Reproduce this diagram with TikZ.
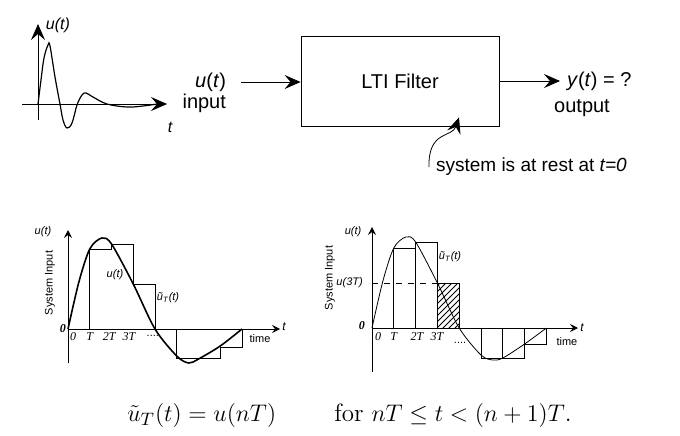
\documentclass[tikz,border=0pt]{standalone}
\usepackage{fontspec}
\setsansfont{Liberation Sans}
\newfontfamily\timesfont{Liberation Serif}
\usetikzlibrary{arrows.meta,patterns}

\tikzset{
  bigtip/.style={-{Stealth[length=8pt,width=7pt,inset=3pt]}},
  smalltip/.style={-{Stealth[length=4pt,width=4pt,inset=1.5pt]}},
  lbl/.style={font=\sffamily\fontsize{10}{12}\selectfont},
  small/.style={font=\sffamily\fontsize{5.5}{6.5}\selectfont},
  tick/.style={font=\timesfont\itshape\fontsize{6}{7}\selectfont},
}

\begin{document}
\begin{tikzpicture}[x=0.5pt,y=-0.5pt]
\useasboundingbox (0,0) rectangle (680,435);

% Input signal
\draw[bigtip] (22,104) -- (167,104);
\draw[bigtip] (38,120) -- (38,24);
\draw[semithick] plot[smooth,tension=0.6] coordinates {
(38,104) (41,80) (44,58) (48,45) (50,46) (55,77) (60,104) (63,120)
(67,128) (72,123) (77,105) (82,95) (86,93) (93,97) (107,104)
(127,107) (143,106) (157,104)};

\node[font=\sffamily\itshape\fontsize{8}{9}\selectfont] (ulabel) at (58,25) {u(t)};
\node[font=\sffamily\itshape\fontsize{8}{9}\selectfont] (tlabel) at (170,127) {t};

% Filter
\node[lbl,draw,minimum width=99pt,minimum height=45pt] (filter) at (400,81) {LTI Filter};

\node[lbl,anchor=east] (uin) at (233,82) {\textit{u}(\textit{t})};
\node[lbl,anchor=east] (inlbl) at (233,103) {input};
\draw[bigtip] ([xshift=4pt]uin.east) -- (uin.east -| filter.west);

\node[lbl,anchor=west] (yout) at (560,81) {\textit{y}(\textit{t}) = ?};
\node[lbl] (outlbl) at (582,108) {output};
\draw[bigtip] (filter.east) -- (yout.west);

\node[lbl,anchor=west,font=\sffamily\fontsize{9.5}{11}\selectfont] (rest) at (429,167)
{system is at rest at \textit{t=0}};
\draw[bigtip] (rest.west) .. controls (428,130) and (452,138) .. ([xshift=29.5pt,yshift=4.5pt]filter.south);

% Staircase
\begin{scope}[shift={(68,329)},x=10.875pt,y=0.5pt]

\draw[smalltip] (0,-34) -- (0,99);
\draw[smalltip] (0,0) -- (9.75,0);

\draw (0,0) -- (1,0) -- (1,80) -- (2,80) -- (2,85) -- (3,85) -- (3,45)
-- (4,45) -- (4,0) -- (5,0) -- (5,-29) -- (7,-29) -- (7,-18) -- (8,-18) -- (8,0);

\draw[thick] plot[smooth] coordinates {
(0,0) (0.5,47) (1,80) (1.55,91) (2,85) (3,45) (4,0)
(5,-27) (5.55,-34) (6,-30) (7,-17) (8,0)};

\node[small,font=\sffamily\itshape\fontsize{5.5}{6.5}\selectfont] (uaxis) at (-1.15,97) {u(t)};
\node[small,rotate=90] (sysin) at (-0.83,46) {System Input};
\node[tick,font=\timesfont\bfseries\itshape\fontsize{6}{7}\selectfont] (zero) at (-0.23,0) {0};
\foreach \t/\name in {0.23/0,1/T,1.89/2T,2.8/3T}
{
    \node[tick] at (\t,-8) {\name};
}
\node[small] (dots) at (3.9,-7) {....};
\node[small] (time) at (8.83,-10) {time};
\node[small,font=\sffamily\itshape\fontsize{6}{7}\selectfont] (taxis) at (9.93,2) {t};
\node[small,font=\sffamily\itshape\fontsize{5.5}{6.5}\selectfont] (ucurve) at (2.16,54) {u(t)};
\node[small,font=\sffamily\itshape\fontsize{5.5}{6.5}\selectfont] (ustep) at (4.6,31) {ũ\textsubscript{T}(t)};

\end{scope}

% Bars
\begin{scope}[shift={(372,328)},x=10.9pt,y=0.5pt]

\draw[smalltip] (0,-44) -- (0,101);
\draw[smalltip] (0,0) -- (9.45,0);

\draw (1,0) rectangle (2,80);
\draw (2,0) rectangle (3,86);
\draw[pattern=north east lines] (3,0) rectangle (4,45);
\draw (5,0) rectangle (6,-30);
\draw (6,0) rectangle (7,-30);
\draw (7,0) rectangle (8,-16);
\draw[dashed] (0,45) -- (3,45);

\draw plot[smooth] coordinates {
(0,0) (0.5,47) (1,80) (1.55,91) (2,86) (3,45) (4,0)
(5,-27) (5.55,-32) (6,-30) (7,-16) (8,0)};

\node[small,font=\sffamily\itshape\fontsize{5.5}{6.5}\selectfont] (uaxis2) at (-0.87,96) {u(t)};
\node[small,rotate=90] (sysin2) at (-1.93,50) {System Input};
\node[small,anchor=east,font=\sffamily\itshape\fontsize{5.5}{6.5}\selectfont] (u3t) at (-0.1,45) {u(3T)};
\node[tick,font=\timesfont\bfseries\itshape\fontsize{6}{7}\selectfont] (zero2) at (-0.46,2) {0};
\foreach \t/\name in {0.28/0,1/T,2.06/2T,2.98/3T}
{
    \node[tick] at (\t,-9) {\name};
}
\node[small] (dots2) at (4.04,-15) {....};
\node[small] (time2) at (8.94,-14) {time};
\node[small,font=\sffamily\itshape\fontsize{6}{7}\selectfont] (taxis2) at (9.63,0) {t};
\node[small,font=\sffamily\itshape\fontsize{5.5}{6.5}\selectfont] (ustep2) at (3.58,71) {ũ\textsubscript{T}(t)};

\end{scope}

% Definition
\node (rule) at (349.5,415)
{\fontsize{12.5}{15}\selectfont $\tilde u_T(t) = u(nT)$ \qquad for $nT \le t < (n+1)T$.};

\end{tikzpicture}
\end{document}
